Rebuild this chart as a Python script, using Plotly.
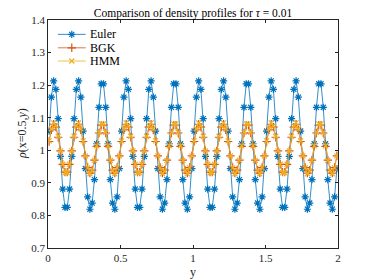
import plotly.graph_objects as go

# cell-centred grid: 128 cells on [0, 2]
n_cells = 128
y_grid = [(j + 0.5) * 2.0 / n_cells for j in range(n_cells)]

euler = [
    1.059, 1.163, 1.213, 1.187, 1.097, 0.981, 0.881, 0.825, 0.825, 0.881, 0.981, 1.097, 1.187, 1.213, 1.163, 1.059,
    0.944, 0.857, 0.819, 0.838, 0.910, 1.020, 1.132, 1.204, 1.204, 1.132, 1.020, 0.910, 0.838, 0.819, 0.857, 0.944,
    1.059, 1.163, 1.213, 1.187, 1.097, 0.981, 0.881, 0.825, 0.825, 0.881, 0.981, 1.097, 1.187, 1.213, 1.163, 1.059,
    0.944, 0.857, 0.819, 0.838, 0.910, 1.020, 1.132, 1.204, 1.204, 1.132, 1.020, 0.910, 0.838, 0.819, 0.857, 0.944,
    1.059, 1.163, 1.213, 1.187, 1.097, 0.981, 0.881, 0.825, 0.825, 0.881, 0.981, 1.097, 1.187, 1.213, 1.163, 1.059,
    0.944, 0.857, 0.819, 0.838, 0.910, 1.020, 1.132, 1.204, 1.204, 1.132, 1.020, 0.910, 0.838, 0.819, 0.857, 0.944,
    1.059, 1.163, 1.213, 1.187, 1.097, 0.981, 0.881, 0.825, 0.825, 0.881, 0.981, 1.097, 1.187, 1.213, 1.163, 1.059,
    0.944, 0.857, 0.819, 0.838, 0.910, 1.020, 1.132, 1.204, 1.204, 1.132, 1.020, 0.910, 0.838, 0.819, 0.857, 0.944,
]

bgk = [
    1.027, 1.063, 1.080, 1.071, 1.040, 0.998, 0.957, 0.933, 0.933, 0.957, 0.998, 1.040, 1.071, 1.080, 1.063, 1.027,
    0.983, 0.947, 0.930, 0.939, 0.970, 1.012, 1.053, 1.077, 1.077, 1.053, 1.012, 0.970, 0.939, 0.930, 0.947, 0.983,
    1.027, 1.063, 1.080, 1.071, 1.040, 0.998, 0.957, 0.933, 0.933, 0.957, 0.998, 1.040, 1.071, 1.080, 1.063, 1.027,
    0.983, 0.947, 0.930, 0.939, 0.970, 1.012, 1.053, 1.077, 1.077, 1.053, 1.012, 0.970, 0.939, 0.930, 0.947, 0.983,
    1.027, 1.063, 1.080, 1.071, 1.040, 0.998, 0.957, 0.933, 0.933, 0.957, 0.998, 1.040, 1.071, 1.080, 1.063, 1.027,
    0.983, 0.947, 0.930, 0.939, 0.970, 1.012, 1.053, 1.077, 1.077, 1.053, 1.012, 0.970, 0.939, 0.930, 0.947, 0.983,
    1.027, 1.063, 1.080, 1.071, 1.040, 0.998, 0.957, 0.933, 0.933, 0.957, 0.998, 1.040, 1.071, 1.080, 1.063, 1.027,
    0.983, 0.947, 0.930, 0.939, 0.970, 1.012, 1.053, 1.077, 1.077, 1.053, 1.012, 0.970, 0.939, 0.930, 0.947, 0.983,
]

hmm = [
    1.029, 1.066, 1.084, 1.075, 1.043, 0.998, 0.957, 0.931, 0.931, 0.957, 0.998, 1.043, 1.075, 1.084, 1.066, 1.029,
    0.983, 0.946, 0.928, 0.937, 0.969, 1.014, 1.055, 1.081, 1.081, 1.055, 1.014, 0.969, 0.937, 0.928, 0.946, 0.983,
    1.029, 1.066, 1.084, 1.075, 1.043, 0.998, 0.957, 0.931, 0.931, 0.957, 0.998, 1.043, 1.075, 1.084, 1.066, 1.029,
    0.983, 0.946, 0.928, 0.937, 0.969, 1.014, 1.055, 1.081, 1.081, 1.055, 1.014, 0.969, 0.937, 0.928, 0.946, 0.983,
    1.029, 1.066, 1.084, 1.075, 1.043, 0.998, 0.957, 0.931, 0.931, 0.957, 0.998, 1.043, 1.075, 1.084, 1.066, 1.029,
    0.983, 0.946, 0.928, 0.937, 0.969, 1.014, 1.055, 1.081, 1.081, 1.055, 1.014, 0.969, 0.937, 0.928, 0.946, 0.983,
    1.029, 1.066, 1.084, 1.075, 1.043, 0.998, 0.957, 0.931, 0.931, 0.957, 0.998, 1.043, 1.075, 1.084, 1.066, 1.029,
    0.983, 0.946, 0.928, 0.937, 0.969, 1.014, 1.055, 1.081, 1.081, 1.055, 1.014, 0.969, 0.937, 0.928, 0.946, 0.983,
]

series_names = ["Euler", "BGK", "HMM"]
x_ticks = [0, 0.5, 1, 1.5, 2]
x_tick_labels = ["0", "0.5", "1", "1.5", "2"]
y_ticks = [0.7, 0.8, 0.9, 1.0, 1.1, 1.2, 1.3, 1.4]
y_tick_labels = ["0.7", "0.8", "0.9", "1", "1.1", "1.2", "1.3", "1.4"]

FONT = "Liberation Serif, DejaVu Serif, serif"
AX = "#262626"
COLORS = ["#0072BD", "#D95319", "#EDB120"]
SYMBOLS = ["asterisk-open", "cross-thin-open", "x-thin-open"]
SIZES = [6, 6, 5]

# the page body has an 8px margin, so the figure is sized to the visible area
W, H = 366, 272
ML, MR, MT, MB = 40, 36, 12, 32
PW, PH = W - ML - MR, H - MT - MB

fig = go.Figure()
for name, vals, col, sym, sz in zip(series_names, [euler, bgk, hmm], COLORS, SYMBOLS, SIZES):
    fig.add_trace(go.Scatter(
        x=y_grid, y=vals, name=name, mode="lines+markers", showlegend=False,
        xaxis="x", yaxis="y",
        line=dict(color=col, width=0.8),
        marker=dict(symbol=sym, size=sz, color=col, line=dict(color=col, width=1.2)),
    ))

# manual legend (MATLAB style, no box)
leg_x0, leg_x1, leg_xt = 0.034, 0.130, 0.137
leg_rows = [0.937, 0.878, 0.820]
for name, col, sym, sz, yr in zip(series_names, COLORS, SYMBOLS, SIZES, leg_rows):
    fig.add_shape(type="line", xref="paper", yref="paper", x0=leg_x0, x1=leg_x1, y0=yr, y1=yr,
                  line=dict(color=col, width=0.8))
    fig.add_trace(go.Scatter(
        x=[(leg_x0 + leg_x1) / 2], y=[yr], xaxis="x2", yaxis="y2", mode="markers", showlegend=False,
        marker=dict(symbol=sym, size=sz, color=col, line=dict(color=col, width=1.2)), hoverinfo="skip",
    ))
    fig.add_annotation(x=leg_xt, y=yr, xref="paper", yref="paper", text=name, showarrow=False,
                       xanchor="left", yanchor="middle",
                       font=dict(family=FONT, size=12, color="black"))

# axis titles
fig.add_annotation(x=0.5, y=-(264 - (H - MB)) / PH, xref="paper", yref="paper", text="y",
                   showarrow=False, xanchor="center", yanchor="middle",
                   font=dict(family=FONT, size=12, color=AX))
fig.add_annotation(x=(14 - ML) / PW, y=0.5, xref="paper", yref="paper",
                   text="<i>ρ</i>(x=0.5,<i>y</i>)", textangle=-90,
                   showarrow=False, xanchor="center", yanchor="middle",
                   font=dict(family=FONT, size=12, color=AX))

axis_common = dict(
    automargin=False, showline=True, linecolor=AX, linewidth=0.8, mirror="ticks",
    ticks="inside", ticklen=3, tickcolor=AX, showgrid=False, zeroline=False,
    tickfont=dict(family=FONT, size=11, color=AX),
)

fig.update_layout(
    width=W, height=H,
    margin=dict(l=ML, r=MR, t=MT, b=MB),
    paper_bgcolor="white", plot_bgcolor="white",
    font=dict(family=FONT, size=11, color=AX),
    title=dict(text="Comparison of density profiles for <i>τ</i> = 0.01",
               x=0.5, xref="paper", xanchor="center", y=1 - 4.5 / H, yanchor="middle",
               font=dict(family=FONT, size=11.5, color="black")),
    showlegend=False,
    xaxis=dict(range=[0, 2], tickvals=x_ticks, ticktext=x_tick_labels, **axis_common),
    yaxis=dict(range=[0.7, 1.4], tickvals=y_ticks, ticktext=y_tick_labels, **axis_common),
    xaxis2=dict(overlaying="x", range=[0, 1], visible=False, anchor="y2", fixedrange=True),
    yaxis2=dict(overlaying="y", range=[0, 1], visible=False, anchor="x2", fixedrange=True),
)

fig.write_html("out.html")
